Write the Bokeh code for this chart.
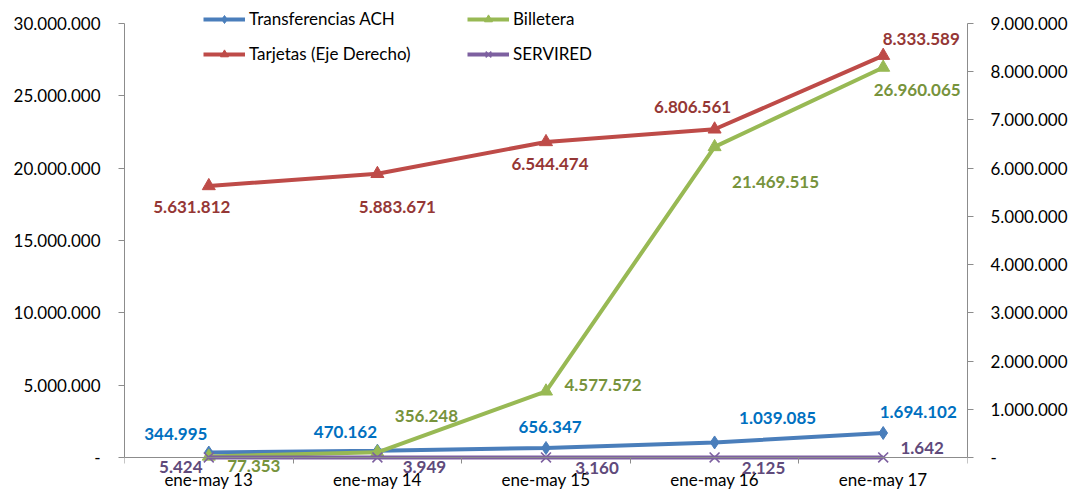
from bokeh.plotting import figure
from bokeh.models import (Range1d, LinearAxis, FixedTicker, Legend, LegendItem,
                          ColumnDataSource)
from bokeh.core.properties import value
from bokeh.embed import file_html
from bokeh.resources import INLINE

# ---------------- data ----------------
CATEGORIES = ["ene-may 13", "ene-may 14", "ene-may 15", "ene-may 16", "ene-may 17"]
ACH = [344995, 470162, 656347, 1039085, 1694102]
BILLETERA = [77353, 356248, 4577572, 21469515, 26960065]
TARJETAS = [5631812, 5883671, 6544474, 6806561, 8333589]   # right axis
SERVIRED = [5424, 3949, 3160, 2125, 1642]

LEFT_MAX = 30000000
RIGHT_MAX = 9000000
LEFT_TICKS = [0, 5000000, 10000000, 15000000, 20000000, 25000000, 30000000]
LEFT_TICK_LABELS = ["-", "5.000.000", "10.000.000", "15.000.000", "20.000.000",
                    "25.000.000", "30.000.000"]
RIGHT_TICKS = [0, 1000000, 2000000, 3000000, 4000000, 5000000, 6000000,
               7000000, 8000000, 9000000]
RIGHT_TICK_LABELS = ["-", "1.000.000", "2.000.000", "3.000.000", "4.000.000",
                     "5.000.000", "6.000.000", "7.000.000", "8.000.000", "9.000.000"]

# ---------------- layout / style ----------------
W, H = 1077, 491
PX_TOP = 23        # space above the top tick
PX_AXIS = 434      # height of the 0..max span
PX_BOTTOM = H - PX_TOP - PX_AXIS   # room below the zero line (inside the frame)
FONT = "Lato"
FS = "17px"
AXIS_GREY = "#8C8C8C"
# label offsets in screen pixels (dx, dy), positive dy = down
OFF_ACH = [(-33, -19), (-32, -19), (4, -21), (63, -24), (35, -21)]
OFF_BIL = [(45, 10), (49, -36), (57, -6), (61, 35), (34, 23)]
OFF_TAR = [(-17, 21), (20, 33), (4, 22), (-22, -22), (38, -17)]
OFF_SER = [(-28, 10), (47, 10), (51, 11), (49, 11), (39, -9)]


def fmt(v):
    return f"{v:,}".replace(",", ".")


def padded(vmax):
    per_px = vmax / PX_AXIS
    return Range1d(-PX_BOTTOM * per_px, vmax + PX_TOP * per_px)


xs = list(range(len(CATEGORIES)))

p = figure(width=W, height=H,
           x_range=Range1d(-0.5, len(CATEGORIES) - 0.5),
           y_range=padded(LEFT_MAX),
           output_backend="svg", toolbar_location=None,
           min_border_left=124, min_border_right=110,
           min_border_top=0, min_border_bottom=0)
p.extra_y_ranges = {"right": padded(RIGHT_MAX)}
p.outline_line_color = None
p.xgrid.grid_line_color = None
p.ygrid.grid_line_color = None
p.background_fill_color = "white"
p.border_fill_color = "white"

# x axis sits on the zero line inside the frame and reserves no room
xa = p.xaxis[0]
xa.fixed_location = 0
xa.ticker = FixedTicker(ticks=xs, minor_ticks=[i - 0.5 for i in range(len(CATEGORIES) + 1)])
xa.major_label_overrides = {i: "" for i in xs}
xa.major_label_text_font_size = "0px"
xa.major_label_standoff = 0
xa.major_tick_line_color = None
xa.major_tick_out = 0
xa.major_tick_in = 0
xa.minor_tick_line_color = AXIS_GREY
xa.minor_tick_out = 6
xa.minor_tick_in = 0
xa.axis_line_color = AXIS_GREY

p.text(xs, [0] * len(xs), text=CATEGORIES, y_offset=22,
       text_align="center", text_baseline="middle",
       text_font=value(FONT), text_font_size=FS, text_color="black")

# left axis
ya = p.yaxis[0]
ya.bounds = (0, LEFT_MAX)
ya.ticker = FixedTicker(ticks=LEFT_TICKS)
ya.major_label_overrides = {t: l for t, l in zip(LEFT_TICKS, LEFT_TICK_LABELS)}
ya.minor_tick_line_color = None
ya.major_tick_line_color = AXIS_GREY
ya.major_tick_out = 6
ya.major_tick_in = 0
ya.axis_line_color = AXIS_GREY
ya.major_label_text_font = FONT
ya.major_label_text_font_size = FS
ya.major_label_text_color = "black"
ya.major_label_standoff = 18

# right axis
ra = LinearAxis(y_range_name="right", ticker=FixedTicker(ticks=RIGHT_TICKS),
                bounds=(0, RIGHT_MAX))
ra.major_label_overrides = {t: l for t, l in zip(RIGHT_TICKS, RIGHT_TICK_LABELS)}
ra.minor_tick_line_color = None
ra.major_tick_line_color = AXIS_GREY
ra.major_tick_out = 6
ra.major_tick_in = 0
ra.axis_line_color = AXIS_GREY
ra.major_label_text_font = FONT
ra.major_label_text_font_size = FS
ra.major_label_text_color = "black"
ra.major_label_standoff = 17
p.add_layout(ra, "right")

series = [
    ("Transferencias ACH", ACH, "#4A7EBB", "diamond", 13, "#0070C0", OFF_ACH, "default"),
    ("Billetera", BILLETERA, "#98B954", "triangle", 13, "#77933C", OFF_BIL, "default"),
    ("SERVIRED", SERVIRED, "#7D60A0", "x", 14, "#604A7B", OFF_SER, "default"),
    ("Tarjetas (Eje Derecho)", TARJETAS, "#BE4B48", "triangle", 13, "#953735", OFF_TAR, "right"),
]

items = {}
for name, vals, col, marker, msize, lcol, offs, rng in series:
    src = ColumnDataSource(dict(x=xs, y=vals, label=[fmt(v) for v in vals],
                                dx=[o[0] for o in offs], dy=[o[1] for o in offs]))
    ln = p.line("x", "y", source=src, line_color=col, line_width=4, y_range_name=rng)
    if marker == "x":
        sc = p.scatter("x", "y", source=src, marker=marker, size=msize,
                       line_color=col, line_width=1.6, y_range_name=rng)
    else:
        sc = p.scatter("x", "y", source=src, marker=marker, size=msize,
                       fill_color=col, line_color=col, y_range_name=rng)
    p.text("x", "y", text="label", source=src, x_offset="dx", y_offset="dy",
           text_align="center", text_baseline="middle",
           text_font=value(FONT), text_font_size=FS, text_font_style="bold",
           text_color=lcol, y_range_name=rng)
    items[name] = LegendItem(label=name, renderers=[ln, sc])


def make_legend(names, x):
    lg = Legend(items=[items[n] for n in names], location=(x, 427),
                orientation="vertical", padding=0, margin=0, spacing=14,
                glyph_width=42, glyph_height=20, label_height=20,
                label_standoff=4, label_text_font=FONT, label_text_font_size=FS,
                label_text_color="black", border_line_color=None,
                background_fill_alpha=0)
    p.add_layout(lg, "center")


make_legend(["Transferencias ACH", "Tarjetas (Eje Derecho)"], 79)
make_legend(["Billetera", "SERVIRED"], 343)

open("out.html", "w").write(file_html(p, INLINE))
